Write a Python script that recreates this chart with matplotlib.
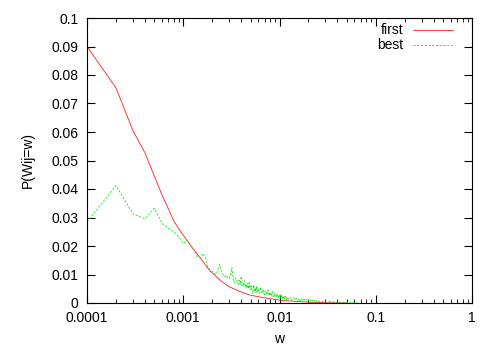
import numpy as np
import matplotlib.pyplot as plt
from matplotlib.ticker import FixedLocator, LogLocator, NullFormatter

plt.rcParams['font.family'] = ['Liberation Sans', 'DejaVu Sans']

w_first = [0.0001, 0.0002, 0.0003, 0.0004, 0.0005, 0.0006, 0.0007, 0.0008, 0.0009,
           0.0010, 0.0012, 0.0015, 0.0019, 0.0024, 0.0030, 0.0039, 0.0049, 0.0063,
           0.008, 0.010, 0.013, 0.0163, 0.022, 0.03, 0.05]
p_first = [0.0900, 0.0755, 0.0605, 0.0527, 0.0446, 0.0380, 0.0331, 0.0287, 0.0260,
           0.0238, 0.0200, 0.0158, 0.0112, 0.0081, 0.0057, 0.0040, 0.0028, 0.0021,
           0.0015, 0.0010, 0.0007, 0.0005, 0.0002, 0.0001, 0.0]

# best: sample index k means w = k * 0.0001
k_best = np.concatenate([np.arange(1, 61), np.arange(62, 121, 2),
                         np.arange(125, 251, 5), np.arange(270, 651, 20)])
p_best = [0.0284, 0.0412, 0.0313, 0.0295, 0.0332, 0.0280, 0.0262, 0.0250, 0.0232, 0.0209,
          0.0221, 0.0203, 0.0186, 0.0162, 0.0158, 0.0174, 0.0160, 0.0127, 0.0116, 0.0110,
          0.0105, 0.0100, 0.0118, 0.0135, 0.0105, 0.0100, 0.0092, 0.0098, 0.0088, 0.0085,
          0.0100, 0.0124, 0.0085, 0.0072, 0.0088, 0.0078, 0.0066, 0.0080, 0.0064, 0.0094,
          0.0062, 0.0058, 0.0078, 0.0056, 0.0066, 0.0052, 0.0070, 0.0050, 0.0072, 0.0046,
          0.0060, 0.0042, 0.0034, 0.0064, 0.0040, 0.0054, 0.0036, 0.0060, 0.0038, 0.0052,
          # k = 62 .. 120 step 2
          0.0034, 0.0056, 0.0032, 0.0048, 0.0029, 0.0044, 0.0028, 0.0046, 0.0026, 0.0038,
          0.0024, 0.0040, 0.0022, 0.0035, 0.0021, 0.0033, 0.0019, 0.0031, 0.0018, 0.0026,
          0.0016, 0.0029, 0.0015, 0.0025, 0.0014, 0.0024, 0.0013, 0.0023, 0.0012, 0.0021,
          # k = 125 .. 250 step 5
          0.0011, 0.0020, 0.0010, 0.0018, 0.0010, 0.0017, 0.0009, 0.0016, 0.0008, 0.0015,
          0.0008, 0.0013, 0.0007, 0.0013, 0.0006, 0.0011, 0.0006, 0.0011, 0.0005, 0.0010,
          0.0005, 0.0009, 0.0004, 0.0009, 0.0004, 0.0008,
          # k = 270 .. 650 step 20
          0.0003, 0.0007, 0.0003, 0.0006, 0.0002, 0.0005, 0.0002, 0.0005, 0.0002, 0.0004,
          0.0001, 0.0004, 0.0001, 0.0004, 0.0001, 0.0003, 0.0001, 0.0003, 0.0001, 0.0001]
w_best = k_best * 0.0001

labels = ['first', 'best']
colors = ['#ff2020', '#00ee00']
styles = ['-', (0, (2.5, 2))]

fig = plt.figure(figsize=(4.98, 3.49), dpi=100)
ax = fig.add_axes([87 / 498, 46 / 349, 385 / 498, 285 / 349])

ax.plot(w_first, p_first, color=colors[0], lw=0.6, ls=styles[0])
ax.plot(w_best, p_best, color=colors[1], lw=0.6, ls=styles[1])

ax.set_xscale('log')
ax.set_xlim(0.0001, 1)
ax.set_ylim(0, 0.1)
ax.xaxis.set_major_locator(FixedLocator([0.0001, 0.001, 0.01, 0.1, 1]))
ax.set_xticklabels(['0.0001', '0.001', '0.01', '0.1', '1'])
ax.xaxis.set_minor_locator(LogLocator(base=10, subs=np.arange(2, 10)))
ax.xaxis.set_minor_formatter(NullFormatter())
yt = np.linspace(0, 0.1, 11)
ax.set_yticks(yt)
ax.set_yticklabels(['0'] + ['%g' % round(v, 2) for v in yt[1:]])

ax.tick_params(which='both', direction='in', top=True, right=True, labelsize=10, pad=6)
ax.tick_params(which='major', length=6, width=0.8)
ax.tick_params(which='minor', length=3, width=0.6)
for s in ax.spines.values():
    s.set_linewidth(0.8)

ax.set_xlabel('w', fontsize=10, labelpad=5)
ax.set_ylabel('P(Wij=w)', fontsize=10, labelpad=12)

# gnuplot style key: right-aligned labels, sample line to the right
for i, (lab, c, st) in enumerate(zip(labels, colors, styles)):
    yy = 0.958 - i * 0.053
    ax.text(0.821, yy, lab, transform=ax.transAxes, ha='right', va='center', fontsize=10)
    ax.plot([0.847, 0.951], [yy, yy], transform=ax.transAxes, color=c, lw=0.6, ls=st)

fig.savefig('out.png', dpi=100)
